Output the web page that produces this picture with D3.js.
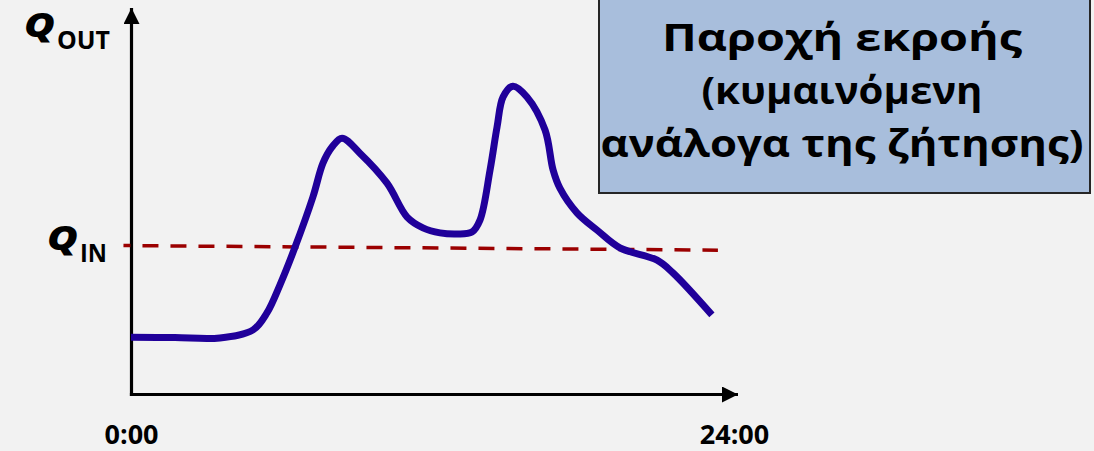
<!DOCTYPE html>
<html>
<head>
<meta charset="utf-8">
<script src="https://cdn.jsdelivr.net/npm/d3@7"></script>
<style>
  html, body { margin: 0; padding: 0; background: #f2f2f2; }
  svg { display: block; font-family: "Open Sans", "Noto Sans", sans-serif; }
</style>
</head>
<body>
<svg id="chart" width="1094" height="451"></svg>
<script>
// ---- data ----
const hours = [0, 1.75, 3.54, 4.86, 5.41, 5.93, 6.53, 7.24, 7.64, 8.0, 8.4, 9.11, 10.19, 10.99, 11.62, 12.3,
               12.98, 13.57, 13.89, 14.29, 14.57, 14.81, 15.2, 15.76, 16.48, 16.8, 17.07, 17.75, 18.55,
               19.46, 20.94, 21.57, 23.12];
const qOut = [14.5, 14.4, 14.3, 16.4, 20.8, 28.1, 37.9, 50.9, 59.7, 63.9, 66.2, 62.3, 54.5, 45.7, 42.9, 41.6,
              41.3, 41.8, 44.9, 57.9, 69.1, 76.9, 79.7, 76.9, 68.3, 57.9, 53.2, 46.8, 42.3,
              37.7, 34.5, 31.2, 20.3];
const qInHours = [-0.3, 23.36];
const qIn = [38.3, 37.1];
const xTicks = [0, 24];
const xTickLabels = ["0:00", "24:00"];
const boxLines = ["Παροχή εκροής", "(κυμαινόμενη", "ανάλογα της ζήτησης)"];

// ---- layout ----
const svg = d3.select("#chart");
const x = d3.scaleLinear().domain([0, 24]).range([131, 734]);
const y = d3.scaleLinear().domain([0, 100]).range([393, 8]);
const axisX = 131.5, axisY = 394.5;

// arrow markers
const defs = svg.append("defs");
defs.append("marker")
  .attr("id", "arrow")
  .attr("viewBox", "0 0 16 16")
  .attr("refX", 16).attr("refY", 8)
  .attr("markerWidth", 16).attr("markerHeight", 16)
  .attr("markerUnits", "userSpaceOnUse")
  .attr("orient", "auto")
  .append("path").attr("d", "M0,0 L16,8 L0,16 Z").attr("fill", "#000");

// axes lines
svg.append("line")
  .attr("x1", axisX).attr("y1", axisY + 1.5).attr("x2", axisX).attr("y2", 8)
  .attr("stroke", "#000").attr("stroke-width", 3.2).attr("marker-end", "url(#arrow)");
svg.append("line")
  .attr("x1", axisX - 1.6).attr("y1", axisY).attr("x2", 738).attr("y2", axisY)
  .attr("stroke", "#000").attr("stroke-width", 3.2).attr("marker-end", "url(#arrow)");

// x tick labels via d3 axis
const xAxis = d3.axisBottom(x).tickValues(xTicks)
  .tickFormat((d, i) => xTickLabels[i]).tickSize(0).tickPadding(0);
const gx = svg.append("g").attr("transform", "translate(0,444)").call(xAxis);
gx.select(".domain").remove();
gx.selectAll("text")
  .attr("dy", 0).attr("y", 0)
  .attr("fill", "#000")
  .style("font-family", "'Open Sans', sans-serif")
  .style("font-weight", "700").style("font-size", "27px");

// Q_in dashed line
const qInData = qInHours.map((h, i) => ({ h, q: qIn[i] }));
svg.append("path")
  .datum(qInData)
  .attr("d", d3.line().x(d => x(d.h)).y(d => y(d.q)))
  .attr("fill", "none")
  .attr("stroke", "#9b0000")
  .attr("stroke-width", 3.5)
  .attr("stroke-dasharray", "16,12")
  .attr("stroke-dashoffset", 9);

// Q_out curve
const outData = hours.map((h, i) => ({ h, q: qOut[i] }));
svg.append("path")
  .datum(outData)
  .attr("d", d3.line().x(d => x(d.h)).y(d => y(d.q)).curve(d3.curveCatmullRom.alpha(0.5)))
  .attr("fill", "none")
  .attr("stroke", "#20009a")
  .attr("stroke-width", 7)
  .attr("stroke-linejoin", "round");

// Axis labels Q_OUT and Q_IN
function qLabel(sub, xStart, yBase, subX, subW) {
  svg.append("text")
    .attr("x", xStart).attr("y", yBase)
    .attr("fill", "#000")
    .style("font-weight", "800").style("font-style", "italic").style("font-size", "34px")
    .attr("textLength", 31).attr("lengthAdjust", "spacingAndGlyphs")
    .text("Q");
  svg.append("text")
    .attr("x", subX).attr("y", yBase + 12)
    .attr("fill", "#000")
    .style("font-weight", "700").style("font-size", "25px")
    .attr("textLength", subW).attr("lengthAdjust", "spacingAndGlyphs")
    .text(sub);
}
qLabel("OUT", 24, 37, 57, 53);
qLabel("IN", 47, 250, 80, 27);

// Text box
svg.append("rect")
  .attr("x", 599).attr("y", -2).attr("width", 491).attr("height", 195)
  .attr("fill", "#a8bedc").attr("stroke", "#262626").attr("stroke-width", 2);
const widths = [360, 281, 483];
const baselines = [51, 104, 157];
boxLines.forEach((line, i) => {
  svg.append("text")
    .attr("x", 842).attr("y", baselines[i])
    .attr("text-anchor", "middle")
    .attr("fill", "#000")
    .style("font-weight", "700").style("font-size", "37px")
    .attr("textLength", widths[i])
    .attr("lengthAdjust", "spacingAndGlyphs")
    .text(line);
});
</script>
</body>
</html>
